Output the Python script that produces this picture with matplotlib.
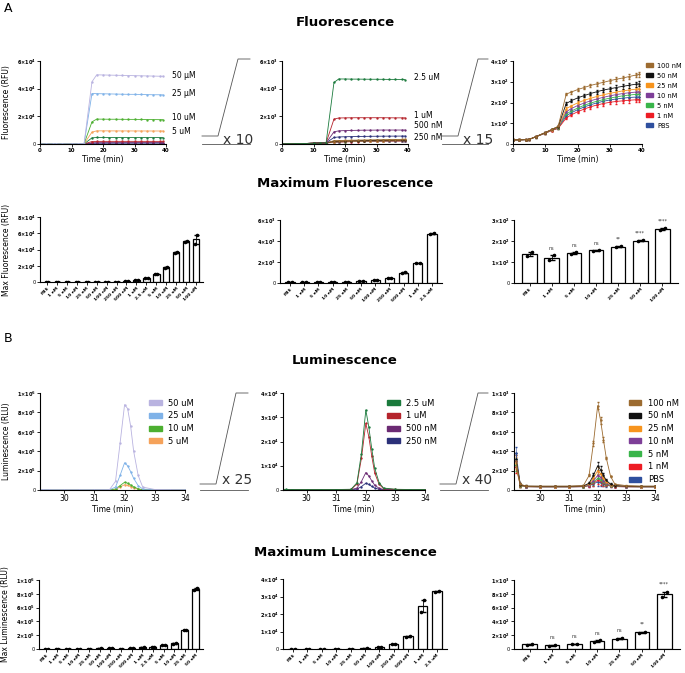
import numpy as np
import matplotlib
matplotlib.use("Agg")
import matplotlib.pyplot as plt
from matplotlib.patches import Patch
from matplotlib.lines import Line2D

# ---- fluorescence time courses ----
t_fl = [0, 2, 4, 5, 7, 10, 12, 14, 16.5, 18, 20, 22, 24, 26, 28, 30, 32, 34, 36, 38, 39]
fl_50uM = [30, 30, 30, 30, 40, 60, 80, 300, 45000, 50000, 49900, 49800, 49700, 49600, 49500, 49400, 49300, 49200, 49100, 49000, 49000]
fl_25uM = [30, 30, 30, 30, 40, 60, 80, 300, 36500, 36400, 36300, 36200, 36100, 36000, 35900, 35900, 35800, 35700, 35600, 35600, 35500]
fl_10uM = [25, 25, 25, 25, 38, 58, 75, 250, 16000, 18000, 17950, 17900, 17900, 17850, 17800, 17800, 17750, 17700, 17650, 17600, 17600]
fl_5uM = [22, 22, 22, 24, 36, 56, 72, 200, 8600, 9500, 9500, 9480, 9460, 9450, 9440, 9430, 9420, 9410, 9400, 9400, 9400]
fl_2_5uM = [20, 20, 21, 22, 35, 55, 70, 90, 4450, 4700, 4700, 4690, 4690, 4685, 4680, 4680, 4675, 4670, 4670, 4665, 4660]
fl_1uM = [20, 20, 21, 22, 35, 55, 70, 85, 1800, 1880, 1890, 1895, 1900, 1900, 1900, 1900, 1900, 1895, 1890, 1890, 1890]
fl_500nM = [20, 20, 21, 22, 35, 55, 70, 85, 880, 950, 970, 980, 990, 1000, 1000, 1005, 1010, 1010, 1010, 1010, 1010]
fl_250nM = [20, 20, 21, 22, 35, 55, 70, 85, 470, 510, 525, 535, 545, 550, 555, 560, 565, 568, 570, 572, 573]
fl_100nM = [20, 20, 21, 22, 35, 55, 70, 85, 240, 250, 262, 272, 282, 290, 297, 305, 312, 318, 325, 332, 335]
fl_50nM = [20, 20, 21, 22, 35, 55, 70, 84, 195, 208, 222, 233, 243, 252, 260, 266, 272, 278, 283, 288, 290]
fl_25nM = [20, 20, 21, 22, 35, 54, 69, 82, 170, 183, 198, 210, 220, 229, 237, 244, 250, 256, 260, 264, 266]
fl_10nM = [20, 20, 21, 22, 35, 54, 68, 80, 155, 170, 185, 197, 208, 217, 225, 232, 238, 243, 247, 250, 252]
fl_5nM = [20, 20, 21, 22, 34, 53, 67, 78, 145, 158, 173, 186, 197, 206, 214, 221, 227, 232, 236, 239, 240]
fl_1nM = [20, 20, 21, 22, 34, 52, 65, 75, 125, 140, 155, 168, 179, 188, 195, 201, 205, 208, 211, 213, 214]
fl_PBS = [20, 20, 21, 22, 34, 52, 66, 76, 135, 150, 165, 178, 189, 198, 206, 212, 217, 221, 224, 226, 227]
err_fl = [2, 2, 2, 2, 3, 4, 4, 5, 6, 7, 8, 8, 9, 9, 10, 10, 10, 11, 11, 11, 12]

# ---- luminescence time courses ----
t_lum = [29.15, 29.3, 29.5, 30, 30.5, 31, 31.5, 31.7, 31.85, 32.0, 32.1, 32.2, 32.3, 32.45, 32.6, 33, 33.5, 34]
lum_50uM = [3000, 2500, 2000, 2000, 2000, 2000, 3000, 90000, 480000, 880000, 840000, 660000, 400000, 150000, 30000, 5000, 3000, 2000]
lum_25uM = [2000, 1500, 1000, 1000, 1000, 1000, 2000, 30000, 150000, 280000, 250000, 190000, 120000, 45000, 10000, 2000, 1000, 1000]
lum_10uM = [1000, 800, 600, 600, 600, 600, 1000, 10000, 45000, 80000, 70000, 52000, 33000, 12000, 3000, 800, 600, 600]
lum_5uM = [800, 600, 500, 500, 500, 500, 800, 7000, 30000, 55000, 48000, 36000, 22000, 8000, 2000, 600, 500, 500]
lum_2_5uM = [300, 250, 200, 200, 200, 200, 300, 3000, 15000, 33000, 26000, 17000, 9000, 3000, 800, 300, 200, 200]
lum_1uM = [250, 200, 150, 150, 150, 150, 250, 2500, 13000, 27500, 22000, 14000, 7000, 2300, 600, 250, 150, 150]
lum_500nM = [200, 150, 100, 100, 100, 100, 150, 800, 3500, 7200, 5800, 3800, 2000, 700, 250, 150, 100, 100]
lum_250nM = [150, 100, 80, 80, 80, 80, 100, 350, 1400, 2800, 2300, 1500, 800, 300, 120, 90, 80, 80]
lum_100nM = [300, 60, 40, 40, 40, 40, 45, 150, 480, 870, 720, 520, 330, 140, 60, 45, 40, 40]
lum_50nM = [320, 55, 40, 38, 38, 38, 42, 70, 150, 250, 210, 150, 100, 60, 45, 40, 38, 38]
lum_25nM = [280, 50, 38, 36, 36, 36, 40, 60, 120, 200, 170, 120, 85, 55, 42, 38, 36, 36]
lum_10nM = [300, 50, 36, 35, 35, 35, 38, 55, 95, 150, 130, 95, 70, 48, 40, 36, 35, 35]
lum_5nM = [260, 45, 35, 33, 33, 33, 36, 50, 80, 120, 105, 80, 60, 45, 38, 35, 33, 33]
lum_1nM = [240, 45, 34, 32, 32, 32, 35, 46, 70, 100, 90, 70, 55, 42, 36, 33, 32, 32]
lum_PBS = [380, 50, 34, 32, 32, 32, 34, 44, 62, 85, 78, 62, 50, 40, 35, 33, 32, 32]
err_lum = [60, 15, 8, 6, 6, 6, 6, 10, 25, 40, 35, 25, 15, 8, 6, 6, 6, 6]

# ---- bar chart data (two replicates each) ----
cats = ['PBS', '1 nM', '5 nM', '10 nM', '25 nM', '50 nM', '100 nM', '250 nM', '500 nM',
        '1 uM', '2.5 uM', '5 uM', '10 uM', '25 uM', '50 uM', '100 uM']
fl_bar1_a = [140, 140, 100, 150, 150, 200, 300, 480, 950, 1850, 4600, 9400, 17800, 36300, 49700, 47000]
fl_bar1_b = [160, 160, 100, 150, 160, 210, 320, 520, 1050, 1950, 4800, 9600, 18200, 36700, 50300, 58000]
fl_bar2_a = [120, 110, 80, 110, 120, 180, 240, 450, 960, 1860, 4680]
fl_bar2_b = [140, 130, 100, 130, 140, 220, 320, 510, 1040, 1940, 4720]
fl_bar3_a = [128, 108, 140, 153, 170, 199, 252]
fl_bar3_b = [147, 132, 146, 157, 176, 203, 260]
fl_sig = ['', 'ns', 'ns', 'ns', '**', '****', '****']
lum_bar1_a = [2500, 2500, 2500, 2500, 2500, 7000, 11000, 4500, 16000, 20000, 26000, 55000, 76000, 270000, 860000]
lum_bar1_b = [3500, 3500, 3500, 3500, 3500, 9000, 13000, 5500, 20000, 24000, 30000, 61000, 84000, 280000, 885000]
lum_bar2_a = [80, 80, 80, 80, 80, 250, 900, 2600, 7000, 21000, 32800]
lum_bar2_b = [120, 120, 120, 120, 120, 350, 1100, 3000, 7400, 28000, 33200]
lum_bar3_a = [65, 50, 70, 105, 140, 235, 750]
lum_bar3_b = [75, 60, 78, 125, 160, 250, 830]
lum_sig = ['', 'ns', 'ns', 'ns', 'ns', '**', '****']

# colours
c_nM = {'100 nM': '#9c6b30', '50 nM': '#111111', '25 nM': '#f7941d', '10 nM': '#7e3f98',
        '5 nM': '#39b54a', '1 nM': '#ed1c24', 'PBS': '#2e4f9e'}
c_uM_hi = {'50': '#b9b3e0', '25': '#7fb2e8', '10': '#4caf30', '5': '#f5a25a'}
c_uM_lo = {'2.5': '#1a7a3c', '1': '#b5242c', '500': '#6b2a73', '250': '#2b3079'}

W, H = 685, 673
fig = plt.figure(figsize=(W / 100, H / 100), dpi=100)


def box(x0, x1, ytop, ybot):
    return fig.add_axes([x0 / W, 1 - ybot / H, (x1 - x0) / W, (ybot - ytop) / H])


def sci(v):
    if v == 0:
        return '0'
    e = int(np.floor(np.log10(v) + 1e-9))
    m = v / 10 ** e
    return r'$\mathbf{%g{\times}10^{%d}}$' % (m, e)


def style(ax, yticks, xsize=4):
    for s in ['top', 'right']:
        ax.spines[s].set_visible(False)
    for s in ['left', 'bottom']:
        ax.spines[s].set_linewidth(0.8)
    ax.set_yticks(yticks)
    ax.set_yticklabels([sci(v) for v in yticks])
    ax.set_ylim(0, yticks[-1])
    ax.tick_params(axis='y', length=2, width=0.6, labelsize=3.6, pad=1)
    ax.tick_params(axis='x', length=2, width=0.6, labelsize=xsize, pad=1)


def ftext(x, y, s, **kw):
    fig.text(x / W, 1 - y / H, s, **kw)


def line_plot(ax, t, series, colors, errs=None):
    for vals, c in zip(series, colors):
        if errs is None:
            ax.plot(t, vals, color=c, lw=0.6, marker='.', ms=1.4)
        else:
            ax.errorbar(t, vals, yerr=errs, color=c, lw=0.6, marker='.', ms=1.4,
                        elinewidth=0.4, capsize=0.8)


def bar_plot(ax, labels, a, b, sig=None):
    a = np.array(a, float)
    b = np.array(b, float)
    mean = (a + b) / 2
    err = np.abs(a - b) / 2
    x = np.arange(len(labels))
    ax.bar(x, mean, width=0.65, color='white', edgecolor='black', lw=0.9, zorder=2)
    ax.errorbar(x, mean, yerr=err, fmt='none', ecolor='black', elinewidth=0.6, capsize=1.8, zorder=3)
    ax.scatter(x - 0.12, a, s=2.5, color='black', zorder=4)
    ax.scatter(x + 0.12, b, s=2.5, color='black', zorder=4)
    ax.set_xticks(x)
    ax.set_xticklabels(labels, rotation=45, ha='right', rotation_mode='anchor', fontweight='bold')
    ax.set_xlim(-0.7, len(labels) - 0.3)
    if sig is not None:
        top = ax.get_ylim()[1]
        for xi, m, e, s in zip(x, mean, err, sig):
            if s:
                ax.text(xi, m + e + top * 0.07, s, ha='center', va='bottom', fontsize=3.5, color='#333333')


# ---------- panel labels and titles ----------
ftext(4, 12, 'A', fontsize=9)
ftext(4, 342, 'B', fontsize=9)
ftext(345, 23, 'Fluorescence', fontsize=9.5, fontweight='bold', ha='center', va='center')
ftext(345, 184, 'Maximum Fluorescence', fontsize=9.5, fontweight='bold', ha='center', va='center')
ftext(345, 360, 'Luminescence', fontsize=9.5, fontweight='bold', ha='center', va='center')
ftext(345, 553, 'Maximum Luminescence', fontsize=9.5, fontweight='bold', ha='center', va='center')

# ---------- row 1: fluorescence kinetics ----------
ax = box(40, 166, 61, 144)
line_plot(ax, t_fl, [fl_250nM, fl_500nM, fl_1uM, fl_2_5uM, fl_5uM, fl_10uM, fl_25uM, fl_50uM],
          [c_uM_lo['250'], c_uM_lo['500'], c_uM_lo['1'], c_uM_lo['2.5'],
           c_uM_hi['5'], c_uM_hi['10'], c_uM_hi['25'], c_uM_hi['50']])
ax.set_xlim(0, 40)
ax.set_xticks([0, 10, 20, 30, 40])
style(ax, [0, 20000, 40000, 60000])
ax.set_xticklabels(['0', '10', '20', '30', '40'], fontweight='bold')
ax.set_xlabel('Time (min)', fontsize=5.5, labelpad=1)
ax.set_ylabel('Fluorescence (RFU)', fontsize=5.5, labelpad=4)
for lab, y in [('50 µM', 75), ('25 µM', 94), ('10 uM', 118), ('5 uM', 132)]:
    ftext(172, y, lab, fontsize=5.5, va='center')

ax = box(282, 408, 61, 144)
line_plot(ax, t_fl, [fl_PBS, fl_1nM, fl_5nM, fl_10nM, fl_25nM, fl_50nM, fl_100nM,
                     fl_250nM, fl_500nM, fl_1uM, fl_2_5uM],
          [c_nM['PBS'], c_nM['1 nM'], c_nM['5 nM'], c_nM['10 nM'], c_nM['25 nM'], c_nM['50 nM'],
           c_nM['100 nM'], c_uM_lo['250'], c_uM_lo['500'], c_uM_lo['1'], c_uM_lo['2.5']])
ax.set_xlim(0, 40)
ax.set_xticks([0, 10, 20, 30, 40])
style(ax, [0, 2000, 4000, 6000])
ax.set_xticklabels(['0', '10', '20', '30', '40'], fontweight='bold')
ax.set_xlabel('Time (min)', fontsize=5.5, labelpad=1)
for lab, y in [('2.5 uM', 78), ('1 uM', 115), ('500 nM', 126), ('250 nM', 137)]:
    ftext(414, y, lab, fontsize=5.5, va='center')

ax = box(513, 642, 61, 144)
nm_names = ['PBS', '1 nM', '5 nM', '10 nM', '25 nM', '50 nM', '100 nM']
line_plot(ax, t_fl, [fl_PBS, fl_1nM, fl_5nM, fl_10nM, fl_25nM, fl_50nM, fl_100nM],
          [c_nM[n] for n in nm_names], errs=err_fl)
ax.set_xlim(0, 40)
ax.set_xticks([0, 10, 20, 30, 40])
style(ax, [0, 100, 200, 300, 400])
ax.set_xticklabels(['0', '10', '20', '30', '40'], fontweight='bold')
ax.set_xlabel('Time (min)', fontsize=5.5, labelpad=1)
hnd = [Patch(color=c_nM[n], label=n) for n in nm_names[::-1]]
ax.legend(handles=hnd, loc='upper left', bbox_to_anchor=(1.0, 1.03), frameon=False, fontsize=4.8,
          handlelength=1.1, handleheight=0.6, labelspacing=0.6, handletextpad=0.6, borderaxespad=0.2)

# zoom connectors
for (x0, x1, x2, x3, txt) in [(202, 218, 238, 250, 'x 10'), (442, 458, 478, 488, 'x 15')]:
    fig.add_artist(Line2D(np.array([x0, x1, x2, x3]) / W, 1 - np.array([136, 136, 59, 59]) / H,
                          color='#555555', lw=0.6))
    fig.add_artist(Line2D(np.array([x0, x3]) / W, 1 - np.array([144, 144]) / H, color='#555555', lw=0.6))
    ftext(x1 + 5, 140, txt, fontsize=10, va='center', color='#333333')

# ---------- row 2: max fluorescence bars ----------
ax = box(40, 203, 217, 282)
style(ax, [0, 20000, 40000, 60000, 80000], xsize=3.2)
bar_plot(ax, cats, fl_bar1_a, fl_bar1_b)
ax.set_ylabel('Max Fluorescence (RFU)', fontsize=5.5, labelpad=4)

ax = box(280, 442, 220, 283)
style(ax, [0, 2000, 4000, 6000], xsize=3.2)
bar_plot(ax, cats[:11], fl_bar2_a, fl_bar2_b)

ax = box(514, 678, 220, 283)
style(ax, [0, 100, 200, 300], xsize=3.2)
bar_plot(ax, cats[:7], fl_bar3_a, fl_bar3_b, fl_sig)

# ---------- row 3: luminescence kinetics ----------
ax = box(40, 185, 393, 490)
line_plot(ax, t_lum, [lum_5uM, lum_10uM, lum_25uM, lum_50uM],
          [c_uM_hi['5'], c_uM_hi['10'], c_uM_hi['25'], c_uM_hi['50']])
ax.set_xlim(29.2, 34)
ax.set_xticks([30, 31, 32, 33, 34])
style(ax, [0, 200000, 400000, 600000, 800000, 1000000], xsize=5.5)
ax.set_xlabel('Time (min)', fontsize=5.5, labelpad=1)
ax.set_ylabel('Luminescence (RLU)', fontsize=5.5, labelpad=4)
hnd = [Patch(color=c_uM_hi[k], label=k + ' uM') for k in ['50', '25', '10', '5']]
ax.legend(handles=hnd, loc='upper left', bbox_to_anchor=(0.7, 1.02), frameon=False, fontsize=6,
          handlelength=1.5, handleheight=0.55, labelspacing=0.45, handletextpad=0.8)

ax = box(283, 425, 393, 490)
line_plot(ax, t_lum, [lum_250nM, lum_500nM, lum_1uM, lum_2_5uM],
          [c_uM_lo['250'], c_uM_lo['500'], c_uM_lo['1'], c_uM_lo['2.5']])
ax.set_xlim(29.2, 34)
ax.set_xticks([30, 31, 32, 33, 34])
style(ax, [0, 10000, 20000, 30000, 40000], xsize=5.5)
ax.set_xlabel('Time (min)', fontsize=5.5, labelpad=1)
hnd = [Patch(color=c_uM_lo['2.5'], label='2.5 uM'), Patch(color=c_uM_lo['1'], label='1 uM'),
       Patch(color=c_uM_lo['500'], label='500 nM'), Patch(color=c_uM_lo['250'], label='250 nM')]
ax.legend(handles=hnd, loc='upper left', bbox_to_anchor=(0.68, 1.02), frameon=False, fontsize=6,
          handlelength=1.5, handleheight=0.55, labelspacing=0.45, handletextpad=0.8)

ax = box(514, 655, 393, 490)
line_plot(ax, t_lum, [lum_PBS, lum_1nM, lum_5nM, lum_10nM, lum_25nM, lum_50nM, lum_100nM],
          [c_nM[n] for n in nm_names], errs=err_lum)
ax.set_xlim(29.08, 34)
ax.set_xticks([30, 31, 32, 33, 34])
style(ax, [0, 200, 400, 600, 800, 1000], xsize=5.5)
ax.set_xlabel('Time (min)', fontsize=5.5, labelpad=1)
hnd = [Patch(color=c_nM[n], label=n) for n in nm_names[::-1]]
ax.legend(handles=hnd, loc='upper left', bbox_to_anchor=(0.76, 1.02), frameon=False, fontsize=6,
          handlelength=1.5, handleheight=0.55, labelspacing=0.45, handletextpad=0.8)

for (x0, x1, x2, x3, txt) in [(200, 216, 236, 248, 'x 25'), (440, 456, 478, 488, 'x 40')]:
    fig.add_artist(Line2D(np.array([x0, x1, x2, x3]) / W, 1 - np.array([484, 484, 393, 393]) / H,
                          color='#555555', lw=0.6))
    fig.add_artist(Line2D(np.array([x0, x3]) / W, 1 - np.array([490, 490]) / H, color='#555555', lw=0.6))
    ftext(x1 + 6, 480, txt, fontsize=10, va='center', color='#333333')

# ---------- row 4: max luminescence bars ----------
ax = box(39, 203, 580, 649)
style(ax, [0, 200000, 400000, 600000, 800000, 1000000], xsize=3.2)
bar_plot(ax, cats[:15], lum_bar1_a, lum_bar1_b)
ax.set_ylabel('Max Luminescence (RLU)', fontsize=5.5, labelpad=4)

ax = box(283, 447, 579, 649)
style(ax, [0, 10000, 20000, 30000, 40000], xsize=3.2)
bar_plot(ax, cats[:11], lum_bar2_a, lum_bar2_b)

ax = box(514, 680, 580, 649)
style(ax, [0, 200, 400, 600, 800, 1000], xsize=3.2)
bar_plot(ax, cats[:7], lum_bar3_a, lum_bar3_b, lum_sig)

fig.savefig('out.png', dpi=100)
